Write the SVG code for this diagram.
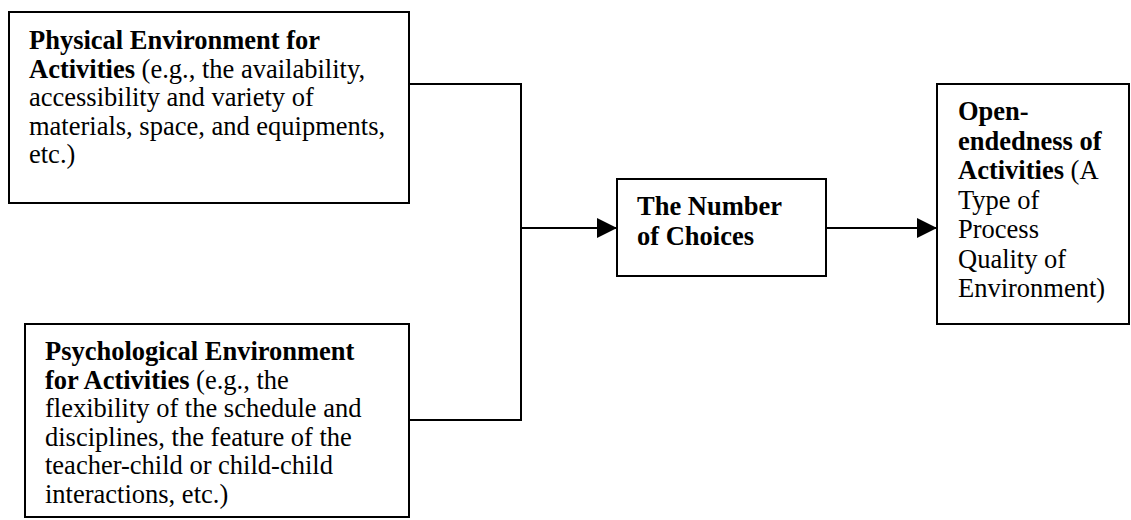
<svg xmlns="http://www.w3.org/2000/svg" width="1131" height="520" viewBox="0 0 1131 520">
<style>
.box{fill:#fff;stroke:#000;stroke-width:2}
.t{font-family:"Liberation Serif","Times New Roman",serif;font-size:26.5px;fill:#000}
.b{font-weight:bold}
.line{fill:none;stroke:#000;stroke-width:2}
</style>
<defs>
<marker id="arr" markerWidth="20" markerHeight="20" refX="20" refY="10" orient="auto" markerUnits="userSpaceOnUse">
<path d="M0,0 L20,10 L0,20 Z" fill="#000"/>
</marker>
</defs>
<rect width="1131" height="520" fill="#fff"/>
<g id="connectors">
<polyline class="line" points="409,84 521,84 521,420 409,420"/>
<line class="line" x1="521" y1="228" x2="617" y2="228" marker-end="url(#arr)"/>
<line class="line" x1="826" y1="228" x2="937" y2="228" marker-end="url(#arr)"/>
</g>
<g id="physical">
<rect class="box" x="9" y="12" width="400" height="191"/>
<text class="t" x="29" y="49"><tspan class="b">Physical Environment for</tspan></text>
<text class="t" x="29" y="77.5"><tspan class="b">Activities</tspan> (e.g., the availability,</text>
<text class="t" x="29" y="106">accessibility and variety of</text>
<text class="t" x="29" y="134.5">materials, space, and equipments,</text>
<text class="t" x="29" y="163">etc.)</text>
</g>
<g id="psychological">
<rect class="box" x="25" y="324" width="384" height="193"/>
<text class="t" x="45" y="360"><tspan class="b">Psychological Environment</tspan></text>
<text class="t" x="45" y="388.5"><tspan class="b">for Activities</tspan> (e.g., the</text>
<text class="t" x="45" y="417">flexibility of the schedule and</text>
<text class="t" x="45" y="445.5">disciplines, the feature of the</text>
<text class="t" x="45" y="474">teacher-child or child-child</text>
<text class="t" x="45" y="502.5">interactions, etc.)</text>
</g>
<g id="choices">
<rect class="box" x="617" y="179" width="209" height="97"/>
<text class="t b" x="637" y="215">The Number</text>
<text class="t b" x="637" y="245">of Choices</text>
</g>
<g id="openendedness">
<rect class="box" x="937" y="84" width="192" height="240"/>
<text class="t b" x="958" y="120">Open-</text>
<text class="t b" x="958" y="149.5">endedness of</text>
<text class="t" x="958" y="179"><tspan class="b">Activities</tspan> (A</text>
<text class="t" x="958" y="208.5">Type of</text>
<text class="t" x="958" y="238">Process</text>
<text class="t" x="958" y="267.5">Quality of</text>
<text class="t" x="958" y="297">Environment)</text>
</g>
</svg>
